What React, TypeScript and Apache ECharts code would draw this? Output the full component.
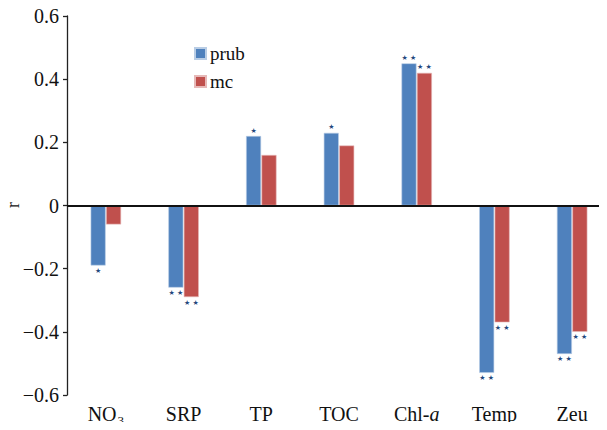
import React, { useEffect, useRef } from "react";
import * as echarts from "echarts";

const categories = ["NO3", "SRP", "TP", "TOC", "Chl-a", "Temp", "Zeu"];
const prubValues = [-0.19, -0.26, 0.22, 0.23, 0.45, -0.53, -0.47];
const mcValues = [-0.06, -0.29, 0.16, 0.19, 0.42, -0.37, -0.4];
const prubSig = ["*", "**", "*", "*", "**", "**", "**"];
const mcSig = ["", "**", "", "", "**", "**", "**"];
const yTicks = [-0.6, -0.4, -0.2, 0, 0.2, 0.4, 0.6];
const yAxisName = "r";

const FONT = "Liberation Serif, serif";

function starText(sig: string) {
  if (sig === "**") return "★ ★";
  if (sig === "*") return "★";
  return "";
}

function makeData(values: number[], sigs: string[]) {
  return values.map((v, i) => ({
    value: v,
    label: {
      show: sigs[i] !== "",
      position: v >= 0 ? "top" : "bottom",
      distance: 2,
      formatter: starText(sigs[i]),
      color: "#1f497d",
      fontSize: 7,
      fontFamily: "DejaVu Sans",
    },
  }));
}

export default function App() {
  const ref = useRef<HTMLDivElement>(null);
  useEffect(() => {
    if (!ref.current) return;
    const chart = echarts.init(ref.current, null, { renderer: "svg" });
    chart.setOption({
      animation: false,
      textStyle: { fontFamily: FONT },
      graphic: [
        {
          type: "text",
          x: 13,
          y: 205,
          rotation: Math.PI / 2,
          style: {
            text: yAxisName,
            font: "18px Liberation Serif, serif",
            fill: "#111",
            align: "center",
            verticalAlign: "middle",
          },
        },
      ],
      legend: {
        left: 189,
        top: 39,
        orient: "vertical",
        itemWidth: 11,
        itemHeight: 11,
        itemGap: 9,
        icon: "rect",
        textStyle: { fontFamily: FONT, fontSize: 19, color: "#111", padding: [0, 0, 0, -1] },
        data: ["prub", "mc"],
      },
      grid: { left: 67, right: -4, top: 16, bottom: 35, outerBoundsMode: "none", containLabel: false },
      xAxis: {
        type: "category",
        data: categories,
        axisLine: { show: false, onZero: false },
        axisTick: { show: false },
        axisLabel: {
          interval: 0,
          margin: 9,
          fontFamily: FONT,
          fontSize: 20,
          color: "#111",
          formatter: (v: string) => {
            if (v === "NO3") return "{n|NO}{sub|3}";
            if (v === "Chl-a") return "{n|Chl-}{it|a}";
            return "{n|" + v + "}";
          },
          rich: {
            n: { fontSize: 20, lineHeight: 20, verticalAlign: "top", fontFamily: FONT, color: "#111" },
            sub: { fontSize: 13, lineHeight: 13, verticalAlign: "top", fontFamily: FONT, color: "#111", padding: [10, 0, 0, 1] },
            it: { fontSize: 20, lineHeight: 20, verticalAlign: "top", fontFamily: FONT, color: "#111", fontStyle: "italic" },
          },
        },
      },
      yAxis: {
        type: "value",
        min: -0.6,
        max: 0.6,
        interval: 0.2,
        axisLine: { show: true, lineStyle: { color: "#222", width: 1.3 } },
        axisTick: { show: true, inside: false, length: 4, lineStyle: { color: "#222", width: 1.3 } },
        splitLine: { show: false },
        axisLabel: {
          margin: 8,
          fontFamily: FONT,
          fontSize: 20,
          color: "#111",
          formatter: (v: number) => {
            const t = yTicks.find((x) => Math.abs(x - v) < 1e-9);
            const val = t !== undefined ? t : v;
            if (Math.abs(val) < 1e-9) return "0";
            return (val < 0 ? "\u2212" : "") + Math.abs(val).toFixed(1);
          },
        },
      },
      series: [
        {
          name: "prub",
          type: "bar",
          barWidth: 15,
          barGap: "3%",
          itemStyle: { color: "#4f81bd", borderColor: "#b9cde5", borderWidth: 0.6 },
          data: makeData(prubValues, prubSig),
          markLine: {
            silent: true,
            symbol: "none",
            label: { show: false },
            lineStyle: { color: "#111", width: 1.8, type: "solid" },
            data: [{ yAxis: 0 }],
          },
        },
        {
          name: "mc",
          type: "bar",
          barWidth: 15,
          barGap: "3%",
          itemStyle: { color: "#c0504d", borderColor: "#e6b9b8", borderWidth: 0.6 },
          data: makeData(mcValues, mcSig),
        },
      ],
    });
    return () => chart.dispose();
  }, []);
  return <div ref={ref} style={{ width: 607, height: 430, margin: -8 }} />;
}
